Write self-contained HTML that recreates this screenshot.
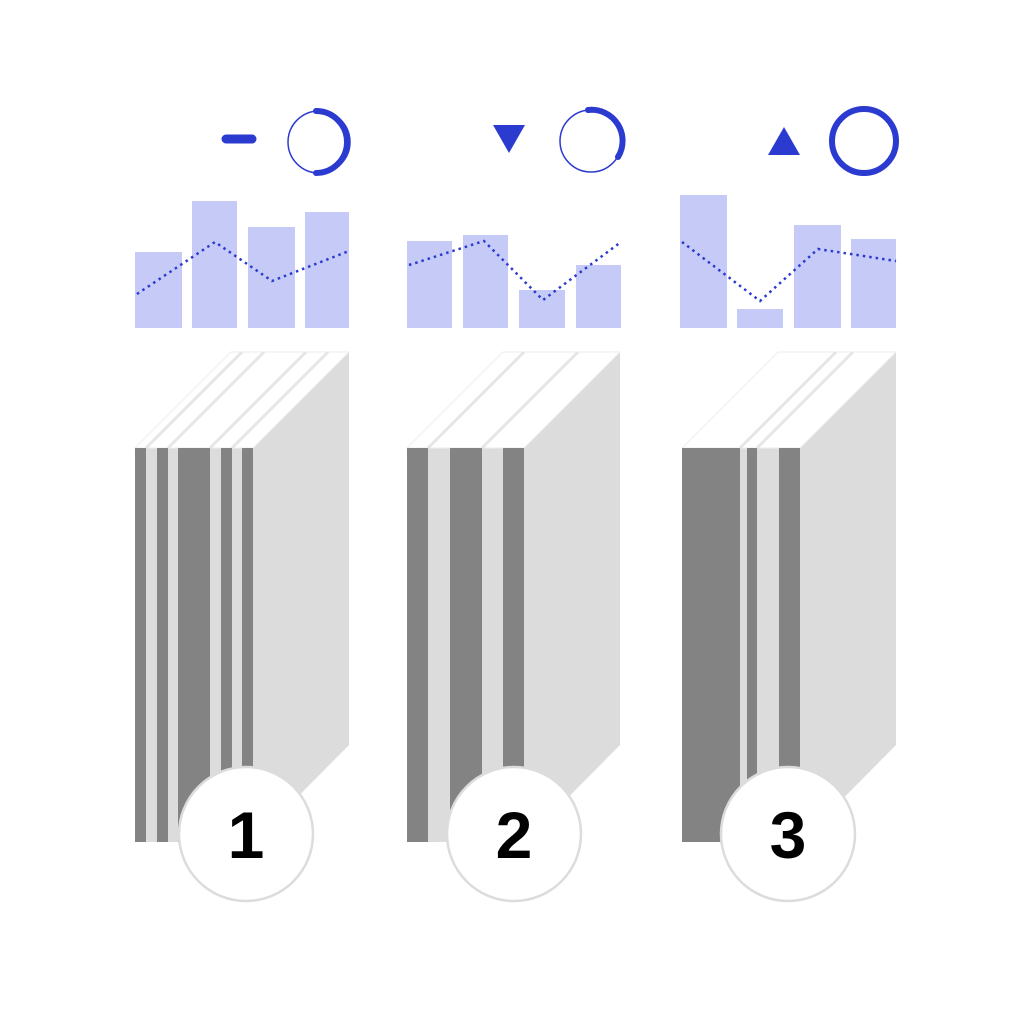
<!DOCTYPE html>
<html><head><style>body{margin:0;background:#fff}svg{display:block}</style></head><body>
<svg width="1024" height="1024" viewBox="0 0 1024 1024" xmlns="http://www.w3.org/2000/svg">
<rect width="1024" height="1024" fill="#fff"/>
<!-- icons -->
<line x1="226" y1="139" x2="252" y2="139" stroke="#2b3bd0" stroke-width="9" stroke-linecap="round"/>
<circle cx="319" cy="142" r="31" fill="none" stroke="#2b3bd0" stroke-width="1.5"/>
<path d="M316 111 A31 31 0 0 1 316 173" fill="none" stroke="#2b3bd0" stroke-width="6" stroke-linecap="round"/>
<polygon points="493,125 525,125 509,153" fill="#2b3bd0"/>
<circle cx="591" cy="141" r="31" fill="none" stroke="#2b3bd0" stroke-width="1.5"/>
<path d="M588 110 A31 31 0 0 1 618 157" fill="none" stroke="#2b3bd0" stroke-width="6" stroke-linecap="round"/>
<polygon points="784,127 800,155 768,155" fill="#2b3bd0"/>
<circle cx="864" cy="141" r="32" fill="none" stroke="#2b3bd0" stroke-width="6"/>
<!-- bars -->
<g fill="#c5caf6">
<rect x="135" y="252" width="47" height="76"/><rect x="192" y="201" width="45" height="127"/><rect x="248" y="227" width="47" height="101"/><rect x="305" y="212" width="44" height="116"/>
<rect x="407" y="241" width="45" height="87"/><rect x="463" y="235" width="45" height="93"/><rect x="519" y="290" width="46" height="38"/><rect x="576" y="265" width="45" height="63"/>
<rect x="680" y="195" width="47" height="133"/><rect x="737" y="309" width="46" height="19"/><rect x="794" y="225" width="47" height="103"/><rect x="851" y="239" width="45" height="89"/>
</g>
<g fill="none" stroke="#2b3bd0" stroke-width="2.5" stroke-dasharray="2.5 4">
<polyline points="137,294 215,242 272,281 349,251"/>
<polyline points="409,265 484,241 543,300 621,242"/>
<polyline points="682,242 760,301 818,249 896,261"/>
</g>
<!-- books col1 -->
<g>
<polygon points="135,448 231,352 349,352 349,745 253,842 135,842" fill="#dcdcdc"/>
<polygon points="135,448 231,352 349,352 253,448" fill="#fff" stroke="#eee"/>
<g stroke="#e6e6e6" stroke-width="3"><line x1="146" y1="448" x2="242" y2="352"/><line x1="168" y1="448" x2="264" y2="352"/><line x1="210" y1="448" x2="306" y2="352"/><line x1="232" y1="448" x2="328" y2="352"/></g>
<g fill="#838383"><rect x="135" y="448" width="11" height="394"/><rect x="157" y="448" width="11" height="394"/><rect x="178" y="448" width="32" height="394"/><rect x="221" y="448" width="11" height="394"/><rect x="242" y="448" width="11" height="394"/></g>
</g>
<!-- col2 -->
<g>
<polygon points="407,448 503,352 620,352 620,745 524,842 407,842" fill="#dcdcdc"/>
<polygon points="407,448 503,352 620,352 524,448" fill="#fff" stroke="#eee"/>
<g stroke="#e6e6e6" stroke-width="3"><line x1="428" y1="448" x2="524" y2="352"/><line x1="482" y1="448" x2="578" y2="352"/></g>
<g fill="#838383"><rect x="407" y="448" width="21" height="394"/><rect x="450" y="448" width="32" height="394"/><rect x="503" y="448" width="21" height="394"/></g>
</g>
<!-- col3 -->
<g>
<polygon points="682,448 778,352 896,352 896,745 800,842 682,842" fill="#dcdcdc"/>
<polygon points="682,448 778,352 896,352 800,448" fill="#fff" stroke="#eee"/>
<g stroke="#e6e6e6" stroke-width="3"><line x1="740" y1="448" x2="836" y2="352"/><line x1="757" y1="448" x2="853" y2="352"/></g>
<g fill="#838383"><rect x="682" y="448" width="58" height="394"/><rect x="747" y="448" width="10" height="394"/><rect x="779" y="448" width="21" height="394"/></g>
</g>
<!-- number circles -->
<g fill="#fff" stroke="#dcdcdc" stroke-width="2.5">
<circle cx="246" cy="834" r="67"/><circle cx="514" cy="834" r="67"/><circle cx="788" cy="834" r="67"/>
</g>
<g font-family="Liberation Sans, sans-serif" font-weight="bold" font-size="66" text-anchor="middle" fill="#000">
<text x="246" y="858">1</text><text x="514" y="858">2</text><text x="788" y="858">3</text>
</g>
</svg>
</body></html>
